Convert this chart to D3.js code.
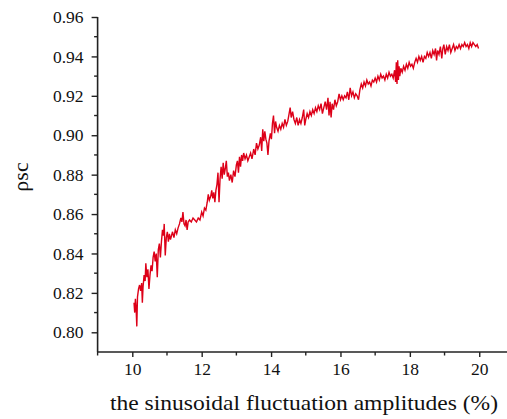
<!DOCTYPE html>
<html><head><meta charset="utf-8">
<script src="https://cdn.jsdelivr.net/npm/d3@7"></script>
</head><body style="margin:0;background:#fff">
<svg id="c" width="507" height="419" font-family="Liberation Serif" style="display:block"></svg>
<script>
const amplitudes = [10.05,10.07,10.09,10.11,10.13,10.15,10.18,10.21,10.24,10.27,10.29,10.31,10.34,10.37,10.39,10.42,10.45,10.48,10.51,10.54,10.57,10.60,10.63,10.66,10.69,10.72,10.75,10.78,10.81,10.84,10.87,10.90,10.92,10.95,10.98,11.01,11.04,11.07,11.10,11.13,11.16,11.20,11.24,11.28,11.32,11.36,11.40,11.43,11.46,11.49,11.52,11.55,11.58,11.61,11.65,11.70,11.75,11.80,11.85,11.90,11.95,12.00,12.04,12.08,12.12,12.16,12.19,12.22,12.26,12.29,12.32,12.35,12.38,12.41,12.44,12.47,12.50,12.53,12.56,12.59,12.62,12.65,12.68,12.71,12.74,12.77,12.80,12.84,12.88,12.92,12.96,13.00,13.03,13.06,13.09,13.12,13.15,13.18,13.21,13.25,13.29,13.33,13.37,13.41,13.45,13.50,13.54,13.58,13.62,13.66,13.70,13.73,13.76,13.79,13.82,13.85,13.88,13.91,13.94,13.98,14.01,14.04,14.07,14.10,14.13,14.16,14.20,14.24,14.28,14.32,14.36,14.40,14.44,14.48,14.52,14.55,14.58,14.62,14.66,14.70,14.74,14.78,14.82,14.86,14.90,14.94,14.97,15.00,15.04,15.08,15.12,15.16,15.20,15.24,15.28,15.32,15.36,15.40,15.44,15.48,15.52,15.56,15.60,15.64,15.67,15.70,15.73,15.76,15.80,15.84,15.88,15.92,15.96,16.00,16.04,16.08,16.12,16.16,16.20,16.24,16.28,16.32,16.36,16.40,16.44,16.48,16.52,16.56,16.60,16.64,16.68,16.72,16.76,16.80,16.84,16.88,16.92,16.96,17.00,17.04,17.08,17.12,17.16,17.20,17.24,17.28,17.32,17.36,17.40,17.44,17.48,17.52,17.56,17.59,17.61,17.63,17.65,17.67,17.69,17.71,17.74,17.78,17.82,17.86,17.90,17.94,17.98,18.02,18.06,18.10,18.14,18.18,18.22,18.26,18.30,18.34,18.38,18.42,18.46,18.50,18.54,18.58,18.62,18.66,18.70,18.74,18.77,18.80,18.84,18.88,18.92,18.95,18.98,19.02,19.06,19.10,19.14,19.18,19.22,19.26,19.30,19.34,19.38,19.42,19.46,19.50,19.54,19.58,19.62,19.66,19.70,19.74,19.78,19.82,19.86,19.90,19.94,19.98];
const rhoSc = [0.815,0.810,0.817,0.812,0.803,0.818,0.822,0.824,0.821,0.825,0.815,0.823,0.829,0.826,0.835,0.828,0.832,0.822,0.829,0.834,0.831,0.838,0.841,0.836,0.840,0.828,0.842,0.845,0.838,0.846,0.852,0.849,0.855,0.839,0.848,0.851,0.846,0.850,0.847,0.849,0.851,0.848,0.852,0.850,0.853,0.855,0.858,0.856,0.861,0.855,0.854,0.857,0.852,0.856,0.857,0.856,0.858,0.857,0.856,0.858,0.857,0.861,0.859,0.863,0.862,0.866,0.870,0.867,0.869,0.872,0.868,0.871,0.866,0.872,0.875,0.881,0.866,0.878,0.884,0.878,0.886,0.880,0.883,0.887,0.879,0.881,0.877,0.880,0.876,0.882,0.879,0.885,0.887,0.881,0.889,0.884,0.890,0.887,0.891,0.888,0.890,0.887,0.889,0.891,0.888,0.893,0.890,0.896,0.893,0.895,0.899,0.892,0.903,0.897,0.902,0.898,0.896,0.890,0.897,0.901,0.898,0.906,0.910,0.901,0.907,0.904,0.902,0.905,0.903,0.906,0.904,0.908,0.905,0.907,0.911,0.914,0.909,0.912,0.908,0.906,0.909,0.905,0.908,0.906,0.909,0.913,0.905,0.908,0.911,0.909,0.912,0.910,0.913,0.911,0.914,0.912,0.915,0.913,0.916,0.911,0.914,0.917,0.913,0.919,0.910,0.917,0.909,0.916,0.913,0.918,0.915,0.917,0.921,0.918,0.920,0.918,0.920,0.919,0.922,0.918,0.924,0.920,0.922,0.919,0.921,0.920,0.918,0.923,0.926,0.924,0.927,0.925,0.928,0.926,0.927,0.925,0.928,0.927,0.929,0.927,0.930,0.928,0.931,0.929,0.930,0.928,0.931,0.929,0.932,0.930,0.931,0.929,0.933,0.927,0.937,0.926,0.938,0.928,0.935,0.930,0.934,0.932,0.935,0.933,0.936,0.934,0.937,0.935,0.936,0.934,0.937,0.939,0.937,0.940,0.938,0.940,0.937,0.940,0.939,0.942,0.940,0.942,0.939,0.943,0.941,0.944,0.938,0.943,0.941,0.945,0.939,0.944,0.946,0.941,0.945,0.943,0.946,0.942,0.944,0.946,0.943,0.945,0.944,0.946,0.944,0.946,0.945,0.947,0.945,0.946,0.944,0.947,0.945,0.947,0.946,0.945,0.946,0.944];
const xMajor = [10,12,14,16,18,20];
const xMinor = [9,11,13,15,17,19];
const yMajor = [0.80,0.82,0.84,0.86,0.88,0.90,0.92,0.94,0.96];
const yMinor = [0.81,0.83,0.85,0.87,0.89,0.91,0.93,0.95];
const xTitle = "the sinusoidal fluctuation amplitudes (%)";
const yTitle = "ρsc";

const FONT = "Liberation Serif";
const svg = d3.select("#c");
const x = d3.scaleLinear().domain([9, 20.8]).range([97.6, 507]);
const y = d3.scaleLinear().domain([0.79, 0.96]).range([352, 17]);
const axisCol = "#222";

const pts = amplitudes.map((a,i)=>[a, rhoSc[i]]);
svg.append("path").datum(pts)
  .attr("fill","none").attr("stroke","#dd0018").attr("stroke-width",1.4)
  .attr("d", d3.line().x(d=>x(d[0])).y(d=>y(d[1])));

const gy = svg.append("g").attr("transform",`translate(${x(9)},0)`)
  .call(d3.axisLeft(y).tickValues(yMajor).tickSize(6).tickPadding(8).tickFormat(d3.format(".2f")));
gy.append("g").selectAll("line").data(yMinor).join("line")
  .attr("x1",0).attr("x2",-3.5).attr("y1",d=>y(d)).attr("y2",d=>y(d));
const gx = svg.append("g").attr("transform",`translate(0,${y(0.79)})`)
  .call(d3.axisBottom(x).tickValues(xMajor).tickSize(5).tickPadding(6).tickFormat(d3.format("d")));
gx.append("g").selectAll("line").data(xMinor).join("line")
  .attr("y1",0).attr("y2",3.5).attr("x1",d=>x(d)).attr("x2",d=>x(d));

[gx,gy].forEach(g=>{
  g.attr("font-family",FONT).attr("font-size",17.5);
  g.select(".domain").attr("stroke",axisCol).attr("stroke-width",1.6);
  g.selectAll("line").attr("stroke",axisCol).attr("stroke-width",1.4);
  g.selectAll("text").attr("fill","#111").attr("font-family",FONT);
});
gx.select(".domain").attr("d",`M${x(9)},0H507`);
gy.select(".domain").attr("d",`M0,${y(0.96)}V${y(0.79)}`);

svg.append("text").attr("x",304).attr("y",410).attr("text-anchor","middle")
  .attr("font-family",FONT).attr("font-size",21).attr("fill","#111")
  .attr("textLength",388).attr("lengthAdjust","spacingAndGlyphs").text(xTitle);

svg.append("text").attr("transform","translate(28,177) rotate(-90)")
  .attr("text-anchor","middle").attr("font-family",FONT).attr("font-size",22).attr("fill","#111")
  .text(yTitle);
</script>
</body></html>
